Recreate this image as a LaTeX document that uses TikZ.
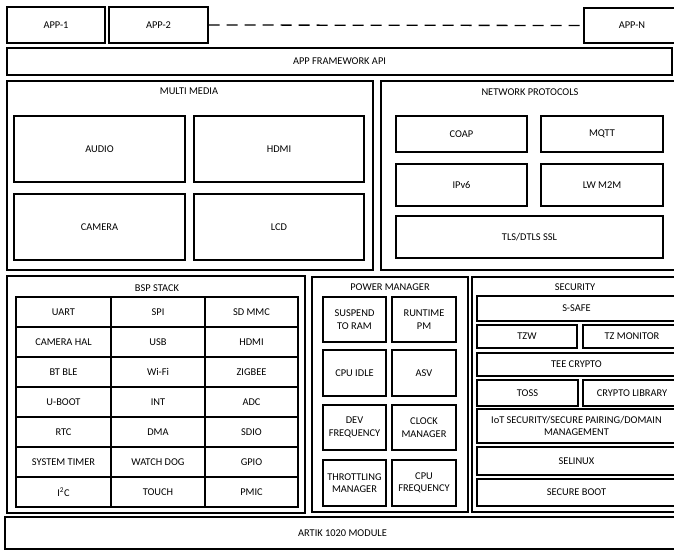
\documentclass[tikz,border=0pt]{standalone}
\usepackage{fontspec}
\setmainfont{Carlito}
\begin{document}
\begin{tikzpicture}[x=1pt,y=-1pt,
  box/.style={draw, line width=1.3pt, inner sep=1pt, align=center, font=\fontsize{10.4}{12.4}\selectfont},
  lbl/.style={inner sep=0pt, font=\fontsize{10.4}{12.4}\selectfont}]
\useasboundingbox (0,0) rectangle (674,552);
\newcommand\bx[6]{\node[box, minimum width={(#4-#2)*1pt}, minimum height={(#5-#3)*1pt}] (#1) at ({(#2+#4)/2},{(#3+#5)/2}) {#6};}
% top row
\bx{app1}{7}{7}{105}{43}{APP-1}
\bx{app2}{109}{7}{208}{43}{APP-2}
\bx{appn}{584}{8}{680}{43}{APP-N}
\draw[line width=1.3pt, dash pattern=on 11pt off 7pt] (app2.east) -- (appn.west);
\bx{api}{7}{48}{672}{75}{APP FRAMEWORK API}
% multimedia
\bx{mm}{7}{81}{373}{270}{}
\node[lbl] (mmt) at (189,91) {MULTI MEDIA};
\bx{audio}{14}{116}{185}{182}{AUDIO}
\bx{hdmi}{194}{116}{364}{182}{HDMI}
\bx{camera}{14}{194}{185}{260}{CAMERA}
\bx{lcd}{194}{194}{364}{260}{LCD}
% network
\bx{np}{381}{81}{680}{270}{}
\node[lbl] (npt) at (530,92) {NETWORK PROTOCOLS};
\bx{coap}{396}{116}{527}{152}{COAP}
\bx{mqtt}{541}{116}{663}{152}{MQTT}
\bx{ipv}{396}{164}{527}{206}{IPv6}
\bx{lwm}{541}{164}{663}{206}{LW M2M}
\bx{tls}{396}{216}{663}{258}{TLS/DTLS SSL}
% BSP
\bx{bsp}{7}{276}{305}{513}{}
\node[lbl] (bspt) at (157,288) {BSP STACK};
\bx{b11}{16}{297}{111}{327}{UART}
\bx{b12}{111}{297}{205}{327}{SPI}
\bx{b13}{205}{297}{298}{327}{SD MMC}
\bx{b21}{16}{327}{111}{357}{CAMERA HAL}
\bx{b22}{111}{327}{205}{357}{USB}
\bx{b23}{205}{327}{298}{357}{HDMI}
\bx{b31}{16}{357}{111}{387}{BT BLE}
\bx{b32}{111}{357}{205}{387}{Wi-Fi}
\bx{b33}{205}{357}{298}{387}{ZIGBEE}
\bx{b41}{16}{387}{111}{417}{U-BOOT}
\bx{b42}{111}{387}{205}{417}{INT}
\bx{b43}{205}{387}{298}{417}{ADC}
\bx{b51}{16}{417}{111}{447}{RTC}
\bx{b52}{111}{417}{205}{447}{DMA}
\bx{b53}{205}{417}{298}{447}{SDIO}
\bx{b61}{16}{447}{111}{477}{SYSTEM TIMER}
\bx{b62}{111}{447}{205}{477}{WATCH DOG}
\bx{b63}{205}{447}{298}{477}{GPIO}
\bx{b71}{16}{477}{111}{507}{I\textsuperscript{2}C}
\bx{b72}{111}{477}{205}{507}{TOUCH}
\bx{b73}{205}{477}{298}{507}{PMIC}
% power manager
\bx{pm}{312}{277}{468}{512}{}
\node[lbl] (pmt) at (390,287) {POWER MANAGER};
\bx{p11}{323}{297}{386}{342}{SUSPEND\\TO RAM}
\bx{p12}{392}{297}{456}{342}{RUNTIME\\PM}
\bx{p21}{323}{350}{386}{396}{CPU IDLE}
\bx{p22}{392}{350}{456}{396}{ASV}
\bx{p31}{323}{405}{386}{450}{DEV\\FREQUENCY}
\bx{p32}{392}{405}{456}{450}{CLOCK\\MANAGER}
\bx{p41}{323}{460}{386}{506}{THROTTLING\\MANAGER}
\bx{p42}{392}{460}{456}{506}{CPU\\FREQUENCY}
% security
\bx{sec}{472}{277}{680}{512}{}
\node[lbl] (sect) at (575,287) {SECURITY};
\bx{ssafe}{477}{296}{676}{321}{S-SAFE}
\bx{tzw}{477}{325}{577}{348}{TZW}
\bx{tzmon}{583}{325}{681}{348}{TZ MONITOR}
\bx{tee}{477}{353}{676}{376}{TEE CRYPTO}
\bx{toss}{477}{380}{578}{406}{TOSS}
\bx{clib}{583}{380}{681}{406}{CRYPTO LIBRARY}
\bx{iot}{477}{409}{676}{443}{IoT SECURITY/SECURE PAIRING/DOMAIN\\MANAGEMENT}
\bx{selinux}{477}{447}{676}{475}{SELINUX}
\bx{sboot}{477}{479}{676}{506}{SECURE BOOT}
% module
\bx{artik}{5}{517}{680}{549}{ARTIK 1020 MODULE}
\end{tikzpicture}
\end{document}
